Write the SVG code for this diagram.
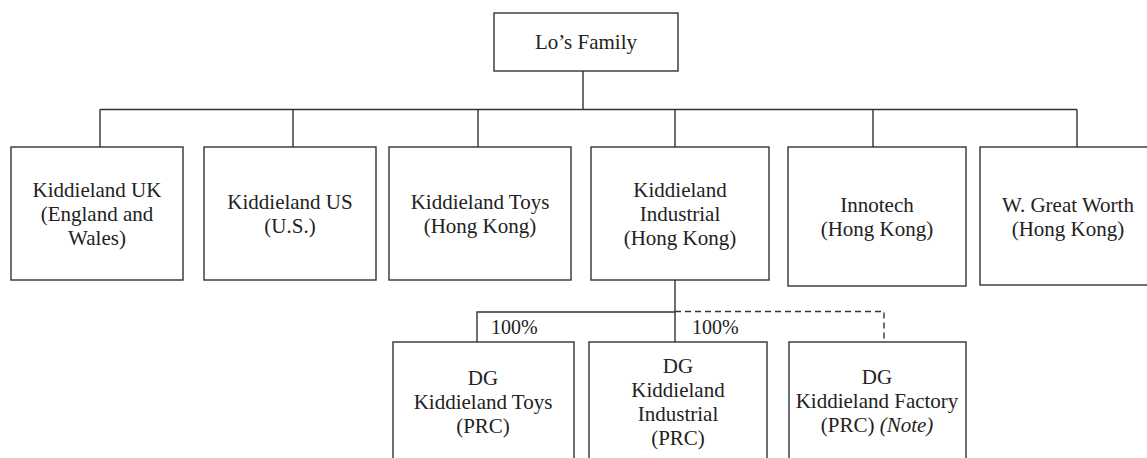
<svg xmlns="http://www.w3.org/2000/svg" width="1147" height="458" viewBox="0 0 1147 458">
<style>
.box{fill:#fff;stroke:#333;stroke-width:1.4}
.ln{fill:none;stroke:#333;stroke-width:1.4}
.dash{fill:none;stroke:#333;stroke-width:1.4;stroke-dasharray:6 4}
text{font-family:"Liberation Serif","Times New Roman",serif;font-size:21px;fill:#222;text-anchor:middle}
.pct{font-size:20px;text-anchor:start}
</style>
<rect width="1147" height="458" fill="#fff"/>
<g id="connectors">
<path class="ln" d="M583,71 V109.5 M100,109.5 H1077 M100,109.5 V147 M293,109.5 V147 M478,109.5 V147 M675,109.5 V147 M873,109.5 V147 M1077,109.5 V147"/>
<path class="ln" d="M675,280 V342 M477,342 V312 H675"/>
<path class="dash" d="M675,311.5 H884 V342"/>
<text class="pct" x="491" y="334">100%</text>
<text class="pct" x="692" y="334">100%</text>
</g>
<g id="los-family"><rect class="box" x="494" y="13" width="184" height="58"/><text x="586" y="49">Lo’s Family</text></g>
<g id="kiddieland-uk"><rect class="box" x="11" y="147" width="172" height="133"/><text x="97" y="197">Kiddieland UK</text><text x="97" y="221">(England and</text><text x="97" y="245">Wales)</text></g>
<g id="kiddieland-us"><rect class="box" x="204" y="147" width="172" height="133"/><text x="290" y="209">Kiddieland US</text><text x="290" y="233">(U.S.)</text></g>
<g id="kiddieland-toys"><rect class="box" x="389" y="147" width="182" height="133"/><text x="480" y="209">Kiddieland Toys</text><text x="480" y="233">(Hong Kong)</text></g>
<g id="kiddieland-industrial"><rect class="box" x="591" y="147" width="178" height="133"/><text x="680" y="197">Kiddieland</text><text x="680" y="221">Industrial</text><text x="680" y="245">(Hong Kong)</text></g>
<g id="innotech"><rect class="box" x="788" y="147" width="178" height="139"/><text x="877" y="212">Innotech</text><text x="877" y="236">(Hong Kong)</text></g>
<g id="great-worth"><rect class="box" x="980" y="147" width="180" height="138"/><text x="1068" y="212">W. Great Worth</text><text x="1068" y="236">(Hong Kong)</text></g>
<g id="dg-toys"><rect class="box" x="393" y="342" width="181" height="130"/><text x="483" y="385">DG</text><text x="483" y="409">Kiddieland Toys</text><text x="483" y="433">(PRC)</text></g>
<g id="dg-industrial"><rect class="box" x="589" y="342" width="178" height="130"/><text x="678" y="373">DG</text><text x="678" y="397">Kiddieland</text><text x="678" y="421">Industrial</text><text x="678" y="445">(PRC)</text></g>
<g id="dg-factory"><rect class="box" x="789" y="342" width="177" height="130"/><text x="877" y="384">DG</text><text x="877" y="408">Kiddieland Factory</text><text x="877" y="432">(PRC) <tspan font-style="italic">(Note)</tspan></text></g>
</svg>
